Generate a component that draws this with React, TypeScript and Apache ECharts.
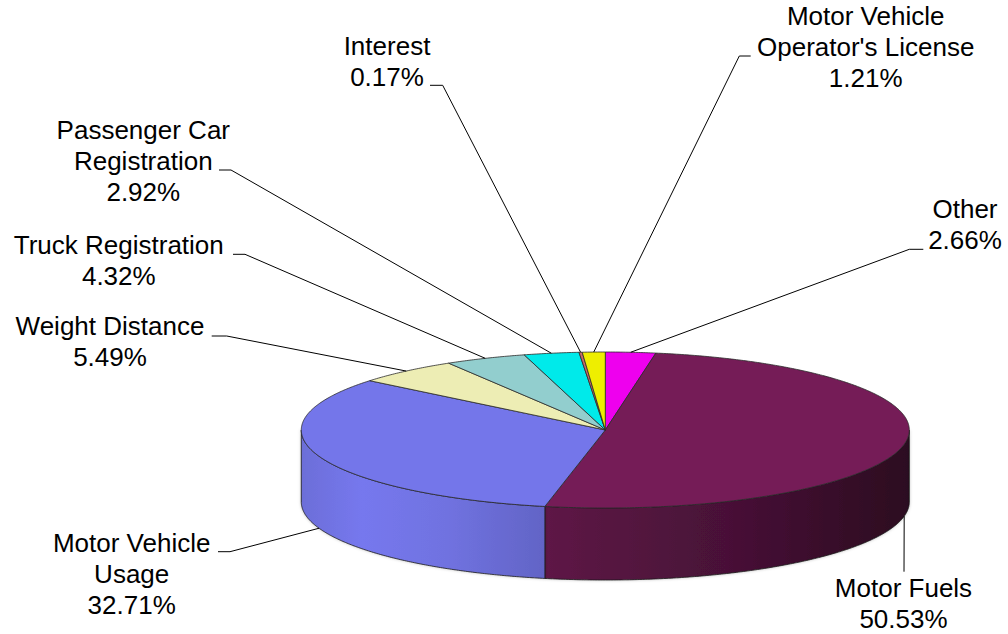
import React, { useEffect, useRef } from 'react';
import * as echarts from 'echarts';

// ---- data ----
const categories = [
  'Other',
  'Motor Fuels',
  'Motor Vehicle Usage',
  'Weight Distance',
  'Truck Registration',
  'Passenger Car Registration',
  'Interest',
  "Motor Vehicle Operator's License",
];
const labelLines = [
  ['Other'],
  ['Motor Fuels'],
  ['Motor Vehicle', 'Usage'],
  ['Weight Distance'],
  ['Truck Registration'],
  ['Passenger Car', 'Registration'],
  ['Interest'],
  ['Motor Vehicle', "Operator's License"],
];
const shares = [2.66, 50.53, 32.71, 5.49, 4.32, 2.92, 0.17, 1.21];

// ---- styles ----
const topColors = ['#EE00EE', '#751C57', '#7476EA', '#EDEDB4', '#92CECE', '#00EAEA', '#C86A6A', '#EEEE00'];
const wallStops: Record<number, [number, string][]> = {
  0: [[0, '#B000B0'], [1, '#600060']],
  1: [[0, '#5E1746'], [0.5, '#481137'], [1, '#2C0A20']],
  2: [[0, '#6C6ED8'], [0.25, '#7678EE'], [0.6, '#7072E0'], [1, '#6264C6']],
  3: [[0, '#D0D09A'], [1, '#A0A070']],
  4: [[0, '#80B8B8'], [1, '#608888']],
  5: [[0, '#00C8C8'], [1, '#009090']],
  6: [[0, '#B05050'], [1, '#803838']],
  7: [[0, '#D0D000'], [1, '#909000']],
};

// ---- layout ----
const CX = 605.3;
const CY = 430;
const RX = 304;
const RY = 78;
const DEPTH = 72;
const START = 90; // degrees, slices run clockwise
const FONT = '26px "Liberation Sans", Arial, sans-serif';
const LINE_H = 31;
// label layout: text centre x, first baseline y, leader elbow, leader end
const labelLayout = [
  { x: 965, base: 218.3, elbow: [909.3, 249.3], end: [923.3, 249.3], bottom: false },
  { x: 903.5, base: 596.7, elbow: [904, 571.7], end: [904, 571.7], bottom: true },
  { x: 131.7, base: 551.7, elbow: [230, 551.7], end: [218, 551.7], bottom: true },
  { x: 110, base: 335, elbow: [226.7, 336], end: [211.7, 336], bottom: false },
  { x: 118.8, base: 254, elbow: [245, 254.3], end: [233, 254.3], bottom: false },
  { x: 143.3, base: 139.3, elbow: [231, 170], end: [219, 170], bottom: false },
  { x: 387, base: 55, elbow: [442.7, 85.3], end: [430, 85.3], bottom: false },
  { x: 865.7, base: 25, elbow: [739.3, 56], end: [750.7, 56], bottom: false },
];

const total = shares.reduce((a, b) => a + b, 0);
function sliceRange(i: number): [number, number] {
  let before = 0;
  for (let k = 0; k < i; k++) before += shares[k];
  const from = START - (before / total) * 360;
  const to = from - (shares[i] / total) * 360;
  return [to, from];
}
const rad = (d: number) => (d * Math.PI) / 180;
function topPt(deg: number): number[] {
  return [CX + RX * Math.cos(rad(deg)), CY - RY * Math.sin(rad(deg))];
}
function botPt(deg: number): number[] {
  return [CX + RX * Math.cos(rad(deg)), CY - RY * Math.sin(rad(deg)) + DEPTH];
}
function arc(a: number, b: number, fn: (d: number) => number[]): number[][] {
  const n = Math.max(2, Math.ceil(Math.abs(b - a) / 0.5));
  const pts: number[][] = [];
  for (let k = 0; k <= n; k++) pts.push(fn(a + ((b - a) * k) / n));
  return pts;
}

const seriesData = categories.map((name, i) => ({ name, value: shares[i] }));

export default function App() {
  const ref = useRef<HTMLDivElement>(null);
  useEffect(() => {
    document.body.style.margin = '0';
    const chart = echarts.init(ref.current!, undefined, { renderer: 'svg' });

    const renderWall = (params: any) => {
      const i = params.dataIndex;
      const [lo, hi] = sliceRange(i);
      const children: any[] = [];
      for (const k of [-1, 0, 1]) {
        const fLo = -180 + k * 360;
        const fHi = 0 + k * 360;
        const a = Math.max(lo, fLo);
        const b = Math.min(hi, fHi);
        if (b - a > 0.01) {
          const pts = arc(a, b, topPt).concat(arc(b, a, botPt));
          children.push({
            type: 'polygon',
            shape: { points: pts },
            style: {
              fill: new echarts.graphic.LinearGradient(0, 0, 1, 0, wallStops[i].map(([o, c]) => ({ offset: o, color: c }))),
              stroke: '#1a1a1a',
              lineWidth: 0.8,
              shadowColor: 'rgba(0,0,0,0.25)',
              shadowBlur: 3,
            },
          });
        }
      }
      return { type: 'group', children };
    };

    const renderTop = (params: any) => {
      const i = params.dataIndex;
      const [lo, hi] = sliceRange(i);
      const pts = [[CX, CY]].concat(arc(hi, lo, topPt));
      return {
        type: 'polygon',
        shape: { points: pts },
        style: { fill: topColors[i], stroke: '#2a2a2a', lineWidth: 0.8 },
      };
    };

    const renderLabel = (params: any) => {
      const i = params.dataIndex;
      const [lo, hi] = sliceRange(i);
      const mid = (lo + hi) / 2;
      const L = labelLayout[i];
      const anchor = L.bottom ? botPt(mid) : topPt(mid);
      const text = labelLines[i].concat([shares[i].toFixed(2) + '%']).join('\n');
      return {
        type: 'group',
        children: [
          {
            type: 'polyline',
            shape: { points: [anchor, L.elbow, L.end] },
            style: { stroke: '#000', lineWidth: 1, fill: null },
          },
          {
            type: 'text',
            style: {
              text,
              x: L.x,
              y: L.base - (LINE_H / 2 + 9),
              font: FONT,
              fill: '#000',
              align: 'center',
              textAlign: 'center',
              verticalAlign: 'top',
              textVerticalAlign: 'top',
              lineHeight: LINE_H,
            },
          },
        ],
      };
    };

    chart.setOption({
      animation: false,
      backgroundColor: '#ffffff',
      series: [
        { type: 'custom', name: 'walls', coordinateSystem: 'none', renderItem: renderWall, data: seriesData, z: 1, silent: true },
        { type: 'custom', name: 'tops', coordinateSystem: 'none', renderItem: renderTop, data: seriesData, z: 2, silent: true },
        { type: 'custom', name: 'labels', coordinateSystem: 'none', renderItem: renderLabel, data: seriesData, z: 3, silent: true },
      ],
    });
    return () => chart.dispose();
  }, []);
  return <div ref={ref} style={{ position: 'fixed', left: 0, top: 0, width: 1008, height: 634 }} />;
}
